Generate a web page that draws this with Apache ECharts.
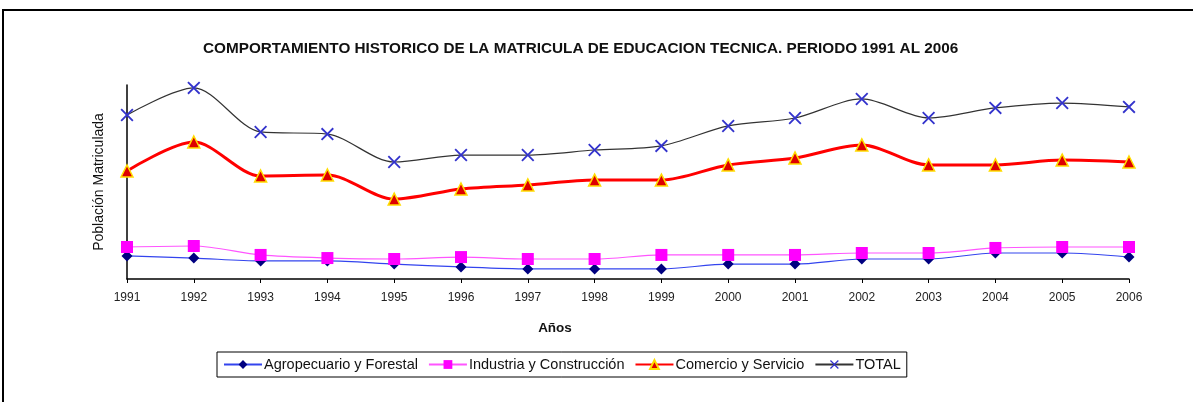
<!DOCTYPE html>
<html>
<head>
<meta charset="utf-8">
<script src="https://cdn.jsdelivr.net/npm/echarts@6/dist/echarts.min.js"></script>
<style>
    html, body { margin: 0; padding: 0; background: #fff; }
    #chart { width: 1193px; height: 402px; }
</style>
</head>
<body>
<div id="chart"></div>
<script>
// 年份
const years = ['1991', '1992', '1993', '1994', '1995', '1996', '1997', '1998',
    '1999', '2000', '2001', '2002', '2003', '2004', '2005', '2006'];

// 各类别的注册人数(估计值)
const agropecuario = [11900, 10800, 9300, 9300, 7700, 6200, 5200, 5200,
    5200, 7700, 7700, 10300, 10300, 13400, 13400, 11300];
const industria = [16500, 17000, 12400, 10800, 10300, 11300, 10300, 10300,
    12400, 12400, 12400, 13400, 13400, 16000, 16500, 16500];
const comercio = [55700, 70600, 53100, 53600, 41200, 46400, 48500, 51000,
    51000, 58800, 62400, 69100, 58800, 58800, 61300, 60300];
const total = [84500, 98500, 75800, 74700, 60300, 63900, 63900, 66500,
    68600, 78900, 83000, 92800, 83000, 88200, 90700, 88700];

const seriesNames = ['Agropecuario y Forestal', 'Industria y Construcción', 'Comercio y Servicio', 'TOTAL'];

const FONT = 'Liberation Sans, Arial, sans-serif';
const crossPath = 'path://M0,1L1,0L5,4L9,0L10,1L6,5L10,9L9,10L5,6L1,10L0,9L4,5Z';

var myChart = echarts.init(document.getElementById('chart'));

var option = {
    animation: false,
    title: {
        text: 'COMPORTAMIENTO HISTORICO DE LA MATRICULA DE EDUCACION TECNICA. PERIODO 1991 AL 2006',
        left: 203,
        top: 41,
        padding: 0,
        textStyle: {
            fontFamily: FONT,
            fontSize: 15.3,
            fontWeight: 'bold',
            color: '#111'
        }
    },
    graphic: [{
        type: 'rect',
        shape: { x: 3, y: 10, width: 1300, height: 500 },
        style: { fill: 'none', stroke: '#000', lineWidth: 2 }
    }],
    legend: {
        data: seriesNames,
        left: 217,
        top: 352,
        padding: [5, 6],
        itemGap: 10,
        itemWidth: 38,
        itemHeight: 11,
        borderColor: '#000',
        borderWidth: 1,
        borderRadius: 0,
        textStyle: {
            fontFamily: FONT,
            fontSize: 14.5,
            color: '#111',
            padding: [0, 0, 0, -3]
        }
    },
    grid: {
        left: 127,
        right: 64,
        top: 85,
        bottom: 123
    },
    xAxis: {
        type: 'category',
        data: years,
        boundaryGap: false,
        name: 'Años',
        nameLocation: 'middle',
        nameGap: 42,
        nameTextStyle: {
            fontFamily: FONT,
            fontSize: 13.5,
            fontWeight: 'bold',
            color: '#111',
            padding: [0, 146, 0, 0]
        },
        axisLine: { lineStyle: { color: '#000', width: 1.5 } },
        axisTick: { show: true, length: 4, lineStyle: { color: '#000' } },
        axisLabel: {
            fontFamily: FONT,
            fontSize: 12,
            color: '#222',
            margin: 13
        }
    },
    yAxis: {
        type: 'value',
        min: 0,
        max: 100000,
        name: 'Población Matriculada',
        nameLocation: 'middle',
        nameGap: 21,
        nameTextStyle: {
            fontFamily: FONT,
            fontSize: 14,
            color: '#111'
        },
        axisLine: { show: true, lineStyle: { color: '#000', width: 1.5 } },
        axisTick: { show: false },
        axisLabel: { show: false },
        splitLine: { show: false }
    },
    series: [
        {
            name: seriesNames[0],
            type: 'line',
            data: agropecuario,
            smooth: 0.3,
            symbol: 'diamond',
            symbolSize: 11,
            itemStyle: { color: '#000080' },
            lineStyle: { color: '#3344ee', width: 1.2 },
            z: 2
        },
        {
            name: seriesNames[1],
            type: 'line',
            data: industria,
            smooth: 0.3,
            symbol: 'rect',
            symbolSize: 12,
            itemStyle: { color: '#ff00ff' },
            lineStyle: { color: '#ff55ff', width: 1.2 },
            z: 3
        },
        {
            name: seriesNames[2],
            type: 'line',
            data: comercio,
            smooth: 0.3,
            symbol: 'triangle',
            symbolSize: 12,
            itemStyle: { color: '#dd0000', borderColor: '#ffdd00', borderWidth: 1.5 },
            lineStyle: { color: '#ff0000', width: 3 },
            z: 4
        },
        {
            name: seriesNames[3],
            type: 'line',
            data: total,
            smooth: 0.3,
            symbol: crossPath,
            symbolSize: 13,
            itemStyle: { color: '#3333cc' },
            lineStyle: { color: '#333333', width: 1.2 },
            z: 5
        }
    ]
};

myChart.setOption(option);
</script>
</body>
</html>
